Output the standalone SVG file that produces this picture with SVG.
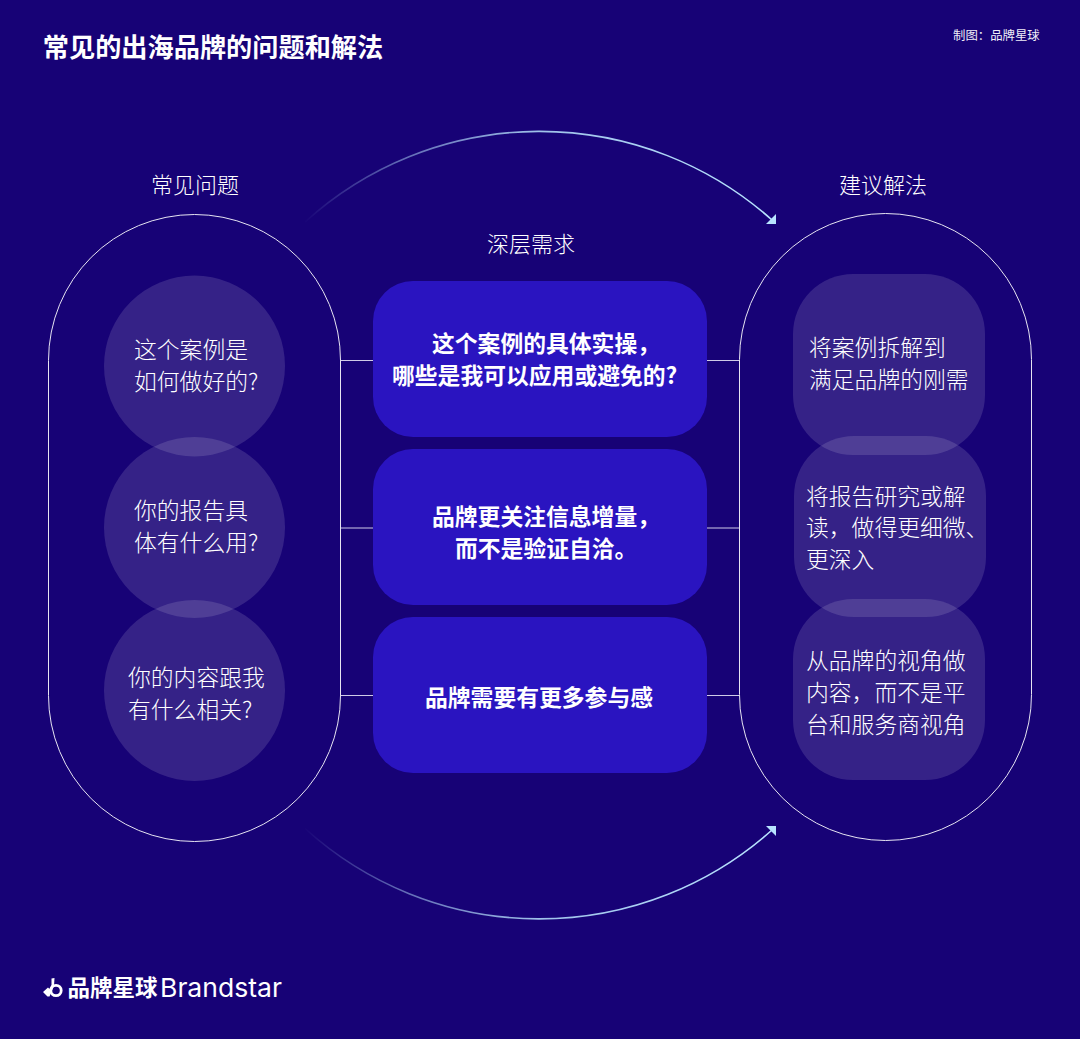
<svg xmlns="http://www.w3.org/2000/svg" width="1080" height="1039" viewBox="0 0 1080 1039">
<defs>
<style>
text{font-family:"Noto Sans CJK SC","Noto Sans",sans-serif;fill:#fff}
.t{font-size:22.8px;font-weight:300;fill:#fff}
.h{font-size:22px;font-weight:300;fill:#fff}
.b{font-size:22.8px;font-weight:700}
.pill{fill:none;stroke:#e6e4f2;stroke-width:1}
.c{fill:#fff;fill-opacity:.13}
.box{fill:#2a14c0}
.l{stroke:#cfcbe8;stroke-width:1;fill:none}
.arc{fill:none;stroke-width:1.6}
.ah{fill:#b8e4ff}
</style>
<linearGradient id="g" gradientUnits="userSpaceOnUse" x1="303" y1="0" x2="775" y2="0">
<stop offset="0" stop-color="#b8e4ff" stop-opacity="0"/>
<stop offset=".2" stop-color="#b8e4ff" stop-opacity=".45"/>
<stop offset=".5" stop-color="#b8e4ff" stop-opacity=".85"/>
<stop offset="1" stop-color="#b8e4ff"/>
</linearGradient>
</defs>
<rect width="1080" height="1039" fill="#170276"/>
<text id="title" x="42.800" y="56.500" font-size="26.200" font-weight="700">常见的出海品牌的问题和解法</text>
<text id="credit" x="953" y="40" font-size="12.400" style="fill:#f0eef8;font-weight:400">制图：品牌星球</text>

<g id="connectors">
<path class="l" d="M340 360.500H373M707 360.500H740M340 528H373M707 528H740M340 695.500H373M707 695.500H740"/>
<path class="arc" stroke="url(#g)" d="M305 222A349 349 0 0 1 772 220"/>
<path class="ah" d="M776 214V224H766Z"/>
<path class="arc" stroke="url(#g)" d="M305 828.500A349 349 0 0 0 772 830"/>
<path class="ah" d="M776 826V836L766 826Z"/>
</g>

<g id="left-group">
<text class="h" x="151" y="193">常见问题</text>
<rect class="pill" x="48.500" y="214.500" width="292" height="627" rx="146" ry="146"/>
</g>
<g id="q1"><circle class="c" cx="194.500" cy="366" r="90.500"/><text class="t" x="134" y="358">这个案例是</text><text class="t" x="134" y="390">如何做好的?</text></g>
<g id="q2"><circle class="c" cx="194.500" cy="527.500" r="90.500"/><text class="t" x="134" y="519">你的报告具</text><text class="t" x="134" y="551">体有什么用?</text></g>
<g id="q3"><circle class="c" cx="194.500" cy="690.500" r="90.500"/><text class="t" x="128" y="686">你的内容跟我</text><text class="t" x="128" y="718">有什么相关?</text></g>

<g id="mid-head"><text class="h" x="487" y="252">深层需求</text></g>
<g id="n1"><rect class="box" x="373" y="281" width="334" height="156" rx="40"/><text class="b" x="432" y="352">这个案例的具体实操，</text><text class="b" x="392" y="384">哪些是我可以应用或避免的?</text></g>
<g id="n2"><rect class="box" x="373" y="449" width="334" height="156" rx="40"/><text class="b" x="432" y="525">品牌更关注信息增量，</text><text class="b" x="455" y="557">而不是验证自洽。</text></g>
<g id="n3"><rect class="box" x="373" y="617" width="334" height="156" rx="40"/><text class="b" x="425" y="706">品牌需要有更多参与感</text></g>

<g id="right-group">
<text class="h" x="839" y="193">建议解法</text>
<rect class="pill" x="739.500" y="213.500" width="292" height="627" rx="146" ry="146"/>
</g>
<g id="s1"><rect class="c" x="793" y="274" width="192" height="181" rx="60"/><text class="t" x="809" y="356">将案例拆解到</text><text class="t" x="809" y="388">满足品牌的刚需</text></g>
<g id="s2"><rect class="c" x="794" y="436" width="192" height="181" rx="60"/><text class="t" x="806" y="505">将报告研究或解</text><text class="t" x="806" y="536">读，做得更细微、</text><text class="t" x="806" y="568">更深入</text></g>
<g id="s3"><rect class="c" x="793" y="599" width="192" height="181" rx="60"/><text class="t" x="806" y="669">从品牌的视角做</text><text class="t" x="806" y="701">内容，而不是平</text><text class="t" x="806" y="733">台和服务商视角</text></g>

<g id="logo">
<circle cx="56" cy="990.500" r="5.200" fill="none" stroke="#fff" stroke-width="2.800"/>
<path d="M51.500 978.500L54.500 978L54 986L49.500 996.500L47.500 996.500L43 992L48 987.500L49.500 989L51.500 985Z" fill="#fff"/>
<text x="67.500" y="996" font-size="22.500" font-weight="700">品牌星球</text>
<text x="160" y="997" style="font-family:Inter,'Noto Sans',sans-serif" font-size="26" font-weight="400" textLength="122" lengthAdjust="spacingAndGlyphs">Brandstar</text>
</g>
</svg>
